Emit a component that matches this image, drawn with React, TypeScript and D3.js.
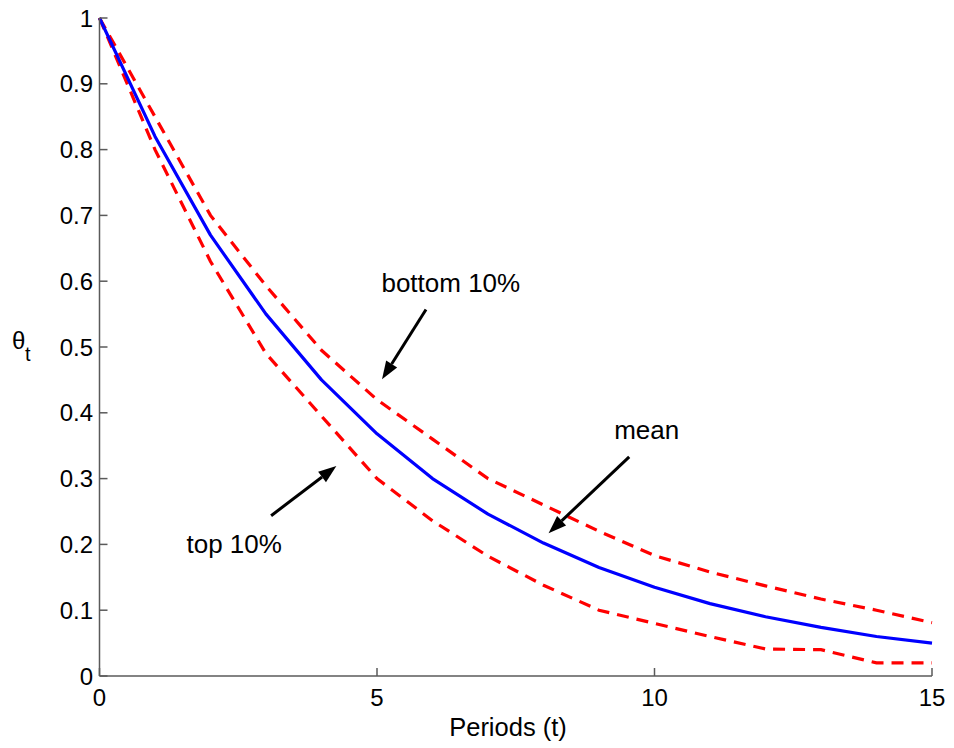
import React from "react";
import * as d3 from "d3";

const periods = [0, 1, 2, 3, 4, 5, 6, 7, 8, 9, 10, 11, 12, 13, 14, 15];
const meanTheta = [1, 0.82, 0.67, 0.55, 0.45, 0.368, 0.30, 0.246, 0.202, 0.165, 0.135, 0.11, 0.09, 0.074, 0.06, 0.05];
const bottom10 = [1, 0.85, 0.70, 0.593, 0.495, 0.42, 0.36, 0.30, 0.26, 0.22, 0.183, 0.158, 0.137, 0.117, 0.10, 0.081];
const top10 = [1, 0.80, 0.63, 0.49, 0.395, 0.30, 0.236, 0.182, 0.138, 0.10, 0.08, 0.06, 0.041, 0.04, 0.02, 0.02];
const xTicks = [0, 5, 10, 15];
const yTicks = [0, 0.1, 0.2, 0.3, 0.4, 0.5, 0.6, 0.7, 0.8, 0.9, 1];

const annotationLabels = ["bottom 10%", "mean", "top 10%"];
const labelPos = [
  [5.08, 0.584],
  [9.274, 0.36],
  [1.567, 0.187],
];
const arrowFrom = [
  [5.883, 0.557],
  [9.544, 0.333],
  [3.092, 0.2436],
];
const arrowTo = [
  [5.091, 0.451],
  [8.091, 0.217],
  [4.268, 0.319],
];

const W = 954;
const H = 748;
const FONT = "'Liberation Sans', Arial, Helvetica, sans-serif";

export default function App() {
  const x = d3.scaleLinear().domain([0, 15]).range([99.5, 932]);
  const y = d3.scaleLinear().domain([0, 1]).range([676, 18]);

  const line = d3
    .line<number>()
    .x((_, i) => x(periods[i]))
    .y((d) => y(d));

  const axisColor = "#5a5a5a";

  const arrows = arrowFrom.map((f, i) => {
    const x1 = x(f[0]);
    const y1 = y(f[1]);
    const x2 = x(arrowTo[i][0]);
    const y2 = y(arrowTo[i][1]);
    const dx = x2 - x1;
    const dy = y2 - y1;
    const len = Math.hypot(dx, dy);
    const ux = dx / len;
    const uy = dy / len;
    const hl = 18;
    const hw = 6.5;
    const bx = x2 - ux * hl;
    const by = y2 - uy * hl;
    const pts = [
      [x2, y2],
      [bx - uy * hw, by + ux * hw],
      [bx + uy * hw, by - ux * hw],
    ];
    return { x1, y1, bx, by, pts };
  });

  return (
    <svg
      width={W}
      height={H}
      style={{ position: "absolute", left: 0, top: 0, background: "#fff" }}
      fontFamily={FONT}
    >
      <rect x={0} y={0} width={W} height={H} fill="#fff" />
      {/* data lines */}
      <path d={line(bottom10) || ""} fill="none" stroke="#ff0000" strokeWidth={3.2} strokeDasharray="12,8" />
      <path d={line(top10) || ""} fill="none" stroke="#ff0000" strokeWidth={3.2} strokeDasharray="12,8" />
      <path d={line(meanTheta) || ""} fill="none" stroke="#0000ff" strokeWidth={3.2} strokeLinejoin="round" />

      {/* axes */}
      <line x1={x(0)} x2={x(0)} y1={y(0)} y2={y(1)} stroke={axisColor} strokeWidth={1.5} />
      <line x1={x(0)} x2={x(15)} y1={y(0)} y2={y(0)} stroke={axisColor} strokeWidth={1.5} />
      {yTicks.map((t) => (
        <g key={"y" + t}>
          <line x1={x(0)} x2={x(0) + 8} y1={y(t)} y2={y(t)} stroke={axisColor} strokeWidth={1.5} />
          <text x={93} y={y(t)} dy="0.36em" textAnchor="end" fontSize={24} fill="#000">
            {d3.format("~g")(t)}
          </text>
        </g>
      ))}
      {xTicks.map((t) => (
        <g key={"x" + t}>
          <line x1={x(t)} x2={x(t)} y1={y(0)} y2={y(0) - 8} stroke={axisColor} strokeWidth={1.5} />
          <text x={x(t)} y={706} textAnchor="middle" fontSize={24} fill="#000">
            {t}
          </text>
        </g>
      ))}
      <text x={508} y={736} textAnchor="middle" fontSize={25.5} fill="#000">
        Periods (t)
      </text>
      <text x={12} y={349} fontSize={24} fill="#000">
        θ
      </text>
      <text x={25} y={361} fontSize={20} fill="#000">
        t
      </text>

      {/* annotations */}
      {annotationLabels.map((s, i) => (
        <text key={s} x={x(labelPos[i][0])} y={y(labelPos[i][1])} fontSize={26} fill="#000">
          {s}
        </text>
      ))}
      {arrows.map((a, i) => (
        <g key={"a" + i}>
          <line x1={a.x1} y1={a.y1} x2={a.bx} y2={a.by} stroke="#000" strokeWidth={3} />
          <polygon points={a.pts.map((p) => p.join(",")).join(" ")} fill="#000" />
        </g>
      ))}
    </svg>
  );
}
